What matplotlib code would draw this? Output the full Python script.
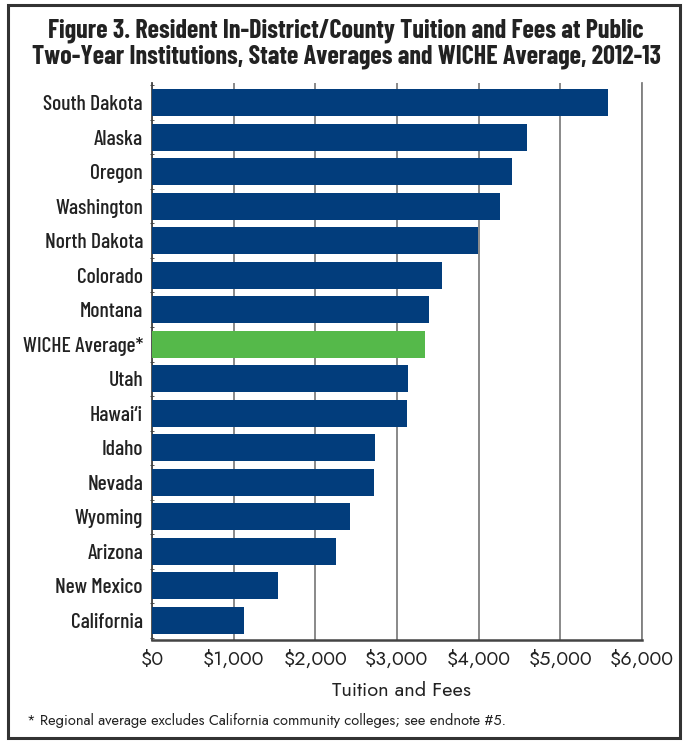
import matplotlib
matplotlib.use("Agg")
import matplotlib.pyplot as plt
from matplotlib.patches import Rectangle
from matplotlib import font_manager

states = ["South Dakota", "Alaska", "Oregon", "Washington", "North Dakota", "Colorado",
          "Montana", "WICHE Average*", "Utah", "Hawai\u2018i", "Idaho", "Nevada",
          "Wyoming", "Arizona", "New Mexico", "California"]
tuition = [5581, 4586, 4403, 4259, 3990, 3550, 3387, 3341, 3133, 3121, 2729, 2717,
           2423, 2252, 1542, 1126]
xticks = [0, 1000, 2000, 3000, 4000, 5000, 6000]
xtick_labels = ["$0", "$1,000", "$2,000", "$3,000", "$4,000", "$5,000", "$6,000"]
title_lines = ["Figure 3. Resident In-District/County Tuition and Fees at Public",
               "Two-Year Institutions, State Averages and WICHE Average, 2012-13"]
xlabel = "Tuition and Fees"
footnote = "* Regional average excludes California community colleges; see endnote #5."

navy = "#023d7c"
green = "#55b94a"
colors = [green if s.startswith("WICHE") else navy for s in states]

names = {f.name for f in font_manager.fontManager.ttflist}


def pick(*cands):
    for c in cands:
        if c in names:
            return c
    return "DejaVu Sans"


cond = pick("Barlow Condensed", "Roboto Condensed", "Liberation Sans Narrow", "Roboto")
geo = pick("Jost", "League Spartan", "Lato")

W, H = 686, 742
fig = plt.figure(figsize=(W / 100, H / 100), dpi=100)
renderer = fig.canvas.get_renderer()


def fitsize(text, family, weight, target_px, base=12.0):
    t = fig.text(0, 0, text, fontsize=base, family=family, fontweight=weight)
    w = t.get_window_extent(renderer).width
    t.remove()
    return base * target_px / w


fig.patches.append(Rectangle((8 / W, 1 - 738 / H), 672 / W, 733 / H, transform=fig.transFigure,
                             fill=False, edgecolor="#333333", linewidth=2.2))

ts = fitsize(title_lines[1], cond, "bold", 630)
fig.text(346 / W, 1 - 31 / H, title_lines[0], ha="center", va="center", fontsize=ts,
         fontweight="bold", family=cond, color="#222222")
fig.text(346 / W, 1 - 57 / H, title_lines[1], ha="center", va="center", fontsize=ts,
         fontweight="bold", family=cond, color="#222222")

left, right, top, bottom = 152, 642, 83, 640
ax = fig.add_axes([left / W, 1 - bottom / H, (right - left) / W, (bottom - top) / H])

y = list(range(len(states)))
ax.barh(y, tuition, height=0.78, color=colors, zorder=3)
ax.set_ylim(len(states) - 0.43, -0.57)
ax.set_xlim(0, 6000)

xs = fitsize("$1,000", geo, "medium", 61)
ys = fitsize("South Dakota", cond, "medium", 100)
ax.set_xticks(xticks)
ax.set_xticklabels(xtick_labels, fontsize=xs, family=geo, fontweight="medium", color="#222222")
ax.set_yticks(y)
ax.set_yticklabels(states, fontsize=ys, family=cond, fontweight="medium", color="#222222")
ax.tick_params(axis="y", length=0, pad=6.5)
ax.tick_params(axis="x", length=0, pad=7)
ax.set_yticks([i + 0.5 for i in range(-1, len(states))], minor=True)
ax.tick_params(axis="y", which="minor", length=3, direction="inout", color="#333333")

ax.grid(axis="x", color="#808080", linewidth=1.3, zorder=0)
ax.spines["top"].set_visible(False)
ax.spines["right"].set_color("#808080")
ax.spines["right"].set_linewidth(1.3)
ax.spines["left"].set_color("#444444")
ax.spines["left"].set_linewidth(1.3)
ax.spines["bottom"].set_color("#444444")
ax.spines["bottom"].set_linewidth(1.8)

ls = fitsize(xlabel, geo, "medium", 138)
fig.text(401 / W, 1 - 690 / H, xlabel, ha="center", va="center", fontsize=ls,
         family=geo, fontweight="medium", color="#222222")

fs = fitsize(footnote, geo, "normal", 480)
fig.text(27 / W, 1 - 721 / H, footnote, ha="left", va="center", fontsize=fs,
         family=geo, color="#222222")

fig.savefig("out.png", dpi=100)
